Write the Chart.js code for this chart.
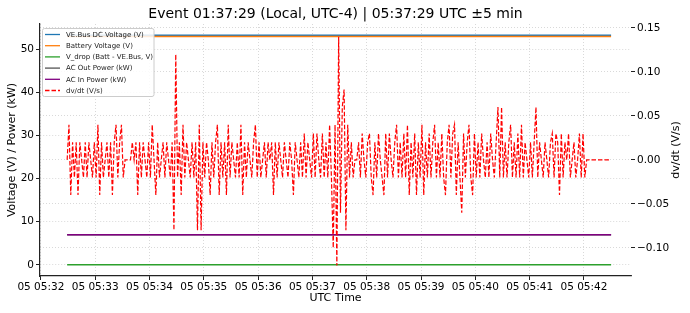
<!DOCTYPE html>
<html>
<head>
<meta charset="utf-8">
<script src="https://cdn.jsdelivr.net/npm/chart.js@4.4.0/dist/chart.umd.min.js"></script>
<style>
  html, body { margin: 0; padding: 0; background: #fff; }
</style>
</head>
<body>
<canvas id="myChart" width="690" height="313"></canvas>
<script>
// x values are seconds after 05:32:00 UTC
var minuteLabels = ["05 05:32", "05 05:33", "05 05:34", "05 05:35", "05 05:36", "05 05:37",
                    "05 05:38", "05 05:39", "05 05:40", "05 05:41", "05 05:42"];
var leftTicks = [0, 10, 20, 30, 40, 50];
var rightTicks = [-0.10, -0.05, 0.00, 0.05, 0.10, 0.15];

// flat series: start / end of window
var flatTimes = [29, 630];
var veBusVoltage = [53.2, 53.2];
var batteryVoltage = [52.9, 52.9];
var vDrop = [0.0, 0.0];
var acOutPower = [6.95, 6.95];
var acInPower = [6.95, 6.95];

// dv/dt sampled every 2 s from 05:32:29
var dvdtStart = 29;
var dvdtStep = 2;
var dvdt = [
  0, 0.04, -0.04, 0.02, -0.02, 0.02, -0.04, 0.02, 0, -0.02, 0.02, -0.02, 0.02, 0, -0.02, 0.02, -0.02, 0.04, -0.04, 0.02,
  -0.02, 0, 0.02, -0.02, 0.02, -0.04, 0.02, 0.04, -0.02, 0.02, 0.04, -0.02, 0, 0, 0, 0, 0.02, 0, 0.02, -0.04,
  0.02, -0.02, 0.02, 0, -0.02, 0.02, -0.02, 0.04, 0, -0.04, 0.02, -0.02, 0, 0.02, -0.02, 0.02, 0, -0.02, 0.02, -0.08,
  0.12, -0.02, 0.02, -0.04, 0.04, -0.02, 0.02, 0, -0.02, 0.02, -0.02, 0.02, -0.08, 0.04, -0.08, 0.02, -0.02, 0.02, 0, -0.04,
  0.02, -0.02, 0.02, 0.04, -0.04, 0.02, -0.02, 0.02, -0.04, 0.04, -0.02, 0.02, 0, -0.02, 0.02, -0.02, 0.04, -0.04, 0.02, -0.02,
  0.02, 0, -0.02, 0.02, 0.04, -0.02, 0.02, -0.02, 0, 0.02, -0.02, 0.02, 0, 0.02, -0.04, 0.02, -0.02, 0.02, 0, -0.02,
  0.02, 0, -0.02, 0.02, 0, -0.04, 0.02, 0, -0.02, 0.02, -0.02, 0.03, -0.02, 0.02, 0, -0.02, 0.03, -0.02, 0.03, 0,
  -0.02, 0.03, -0.02, 0.02, -0.02, 0.04, -0.02, -0.10, 0.04, -0.12, 0.14, -0.06, 0.06, 0.08, -0.08, 0.04, -0.02, 0.02, -0.02, 0,
  0, 0.02, -0.02, 0.03, 0, -0.02, 0.02, 0.03, -0.02, -0.04, 0.02, -0.02, 0.03, 0, -0.02, -0.04, 0.03, -0.02, 0.03, 0,
  -0.02, 0.02, 0.04, -0.02, 0.02, -0.02, 0.03, -0.02, 0.04, -0.04, 0.02, -0.02, 0.03, -0.04, 0.02, -0.02, 0.04, -0.04, 0.02, -0.02,
  0.03, -0.02, 0.02, 0.04, -0.02, 0.02, -0.02, 0.03, -0.02, -0.04, 0.02, 0.04, -0.02, 0.03, 0.04, -0.04, 0.02, -0.02, -0.06, 0.03,
  -0.02, 0.02, 0.04, -0.02, -0.04, 0.03, -0.02, 0.02, -0.02, 0.03, 0, -0.02, 0.02, -0.02, 0.03, 0, -0.02, 0.02, 0.06, -0.02,
  0.06, -0.02, 0.02, -0.02, 0.02, 0.04, -0.02, 0.02, -0.02, 0.03, -0.02, 0.04, -0.02, 0.02, 0, -0.02, 0.02, -0.02, 0.02, 0.06,
  -0.02, 0.02, 0, -0.02, 0.02, 0, -0.02, 0.02, 0.03, -0.02, 0.03, 0.02, -0.04, 0.03, -0.02, 0.02, 0, 0.03, -0.02, 0,
  0.02, -0.02, 0, 0.03, -0.02, 0.03, -0.02, 0, 0, 0, 0, 0, 0, 0, 0, 0, 0, 0, 0, 0, 0
];

var titleText = "Event 01:37:29 (Local, UTC-4) | 05:37:29 UTC \u00b15 min";
var FONT = '"DejaVu Sans", sans-serif';

function pts(times, vals) {
  return vals.map(function (v, i) { return { x: times[i], y: v }; });
}
var dvdtPts = dvdt.map(function (v, i) { return { x: dvdtStart + i * dvdtStep, y: v }; });

var gridOpts = { color: '#cfcfcf', lineWidth: 0.8, tickColor: '#222', tickLength: 4, tickWidth: 1 };

// title, right axis label, legend box inside the plot
var decor = {
  id: 'decor',
  afterDraw: function (chart) {
    var ctx = chart.ctx, a = chart.chartArea;
    ctx.save();
    ctx.fillStyle = '#000';
    ctx.textAlign = 'center';
    ctx.textBaseline = 'middle';
    ctx.font = '14px ' + FONT;
    ctx.fillText(titleText, (a.left + a.right) / 2, 14);

    ctx.save();
    ctx.translate(676, (a.top + a.bottom) / 2);
    ctx.rotate(-Math.PI / 2);
    ctx.font = '11px ' + FONT;
    ctx.fillText('dv/dt (V/s)', 0, 0);
    ctx.restore();

    // legend
    var bx = 42.5, by = 28.5, bw = 111.5, bh = 68;
    ctx.fillStyle = 'rgba(255,255,255,0.85)';
    ctx.strokeStyle = '#cccccc';
    ctx.lineWidth = 1;
    ctx.beginPath();
    ctx.roundRect(bx, by, bw, bh, 2);
    ctx.fill();
    ctx.stroke();
    ctx.font = '7px ' + FONT;
    ctx.textAlign = 'left';
    chart.data.datasets.forEach(function (ds, i) {
      var y = 34.5 + i * 11.2;
      ctx.strokeStyle = ds.borderColor;
      ctx.lineWidth = 1.3;
      ctx.setLineDash(ds.borderDash || []);
      ctx.beginPath();
      ctx.moveTo(45, y);
      ctx.lineTo(60, y);
      ctx.stroke();
      ctx.setLineDash([]);
      ctx.fillStyle = '#222';
      ctx.fillText(ds.label, 66, y + 0.5);
    });
    ctx.restore();
  }
};

var ctx = document.getElementById("myChart");
var myChart = new Chart(ctx, {
  type: 'line',
  data: {
    datasets: [
      { label: 'VE.Bus DC Voltage (V)', data: pts(flatTimes, veBusVoltage), borderColor: '#1f77b4', yAxisID: 'y', order: 5 },
      { label: 'Battery Voltage (V)', data: pts(flatTimes, batteryVoltage), borderColor: '#ff7f0e', yAxisID: 'y', order: 4 },
      { label: 'V_drop (Batt - VE.Bus, V)', data: pts(flatTimes, vDrop), borderColor: '#2ca02c', yAxisID: 'y', order: 3 },
      { label: 'AC Out Power (kW)', data: pts(flatTimes, acOutPower), borderColor: '#555555', yAxisID: 'y', order: 2 },
      { label: 'AC In Power (kW)', data: pts(flatTimes, acInPower), borderColor: '#800080', yAxisID: 'y', order: 1 },
      { label: 'dv/dt (V/s)', data: dvdtPts, borderColor: '#ff0000', borderDash: [4.5, 2], borderWidth: 1.2, yAxisID: 'y1', order: 0 }
    ]
  },
  options: {
    responsive: false,
    animation: false,
    devicePixelRatio: 1,
    layout: { padding: { top: 24, left: 0, right: 0, bottom: 0 } },
    elements: {
      point: { radius: 0 },
      line: { tension: 0, borderWidth: 1.4, fill: false }
    },
    plugins: { legend: { display: false }, tooltip: { enabled: false }, title: { display: false } },
    scales: {
      x: {
        type: 'linear', min: -1, max: 652,
        afterBuildTicks: function (s) { s.ticks = minuteLabels.map(function (l, i) { return { value: i * 60 }; }); },
        afterFit: function (s) { s.height = 37; },
        ticks: {
          callback: function (v, i) { return minuteLabels[i]; },
          autoSkip: false, maxRotation: 0, padding: 1, color: '#000',
          font: { family: FONT, size: 10.5 }
        },
        grid: gridOpts,
        border: { display: true, color: '#222', width: 1.2, dash: [1, 2] },
        title: { display: true, text: 'UTC Time', color: '#000', font: { family: FONT, size: 11 }, padding: { top: 0, bottom: 8 } }
      },
      y: {
        position: 'left', min: -2.6, max: 55.8,
        afterBuildTicks: function (s) { s.ticks = leftTicks.map(function (v) { return { value: v }; }); },
        afterFit: function (s) { s.width = 40; },
        ticks: { color: '#000', padding: 2, font: { family: FONT, size: 10.5 } },
        grid: gridOpts,
        border: { display: true, color: '#222', width: 1.2, dash: [1, 2] },
        title: { display: true, text: 'Voltage (V) / Power (kW)', color: '#000', font: { family: FONT, size: 11 }, padding: { top: 6, bottom: 0 } }
      },
      y1: {
        position: 'right', min: -0.132, max: 0.1545,
        afterBuildTicks: function (s) { s.ticks = rightTicks.map(function (v) { return { value: v }; }); },
        afterFit: function (s) { s.width = 59; },
        ticks: {
          color: '#000', padding: 2, font: { family: FONT, size: 10.5 },
          callback: function (v) { return (v < -1e-9 ? '\u2212' : '') + Math.abs(v).toFixed(2); }
        },
        grid: gridOpts,
        border: { display: false, dash: [1, 2] }
      }
    }
  },
  plugins: [decor]
});
</script>
</body>
</html>
